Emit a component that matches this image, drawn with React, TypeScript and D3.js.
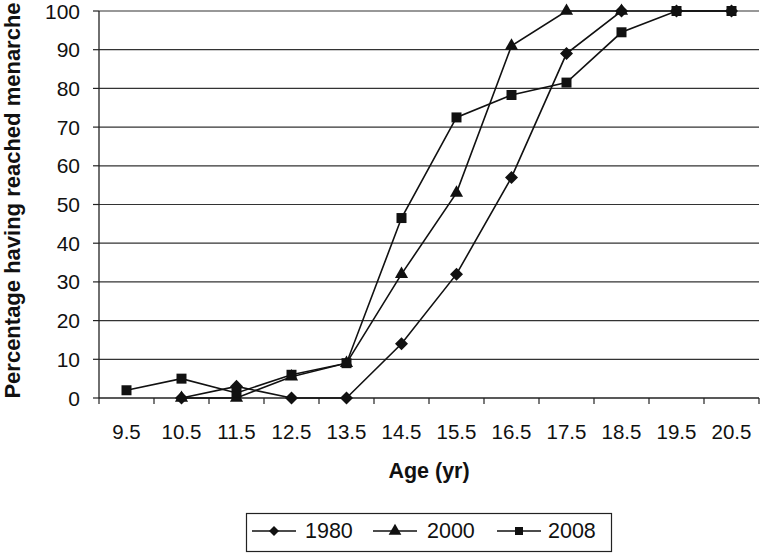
import React from 'react'
import { scaleBand, scaleLinear, line, symbol, symbolTriangle, symbolSquare } from 'd3'

const ages = ['9.5', '10.5', '11.5', '12.5', '13.5', '14.5', '15.5', '16.5', '17.5', '18.5', '19.5', '20.5']
const y1980 = [null, 0, 3, 0, 0, 14, 32, 57, 89, 100, 100, 100]
const y2000 = [null, 0, 0, 5.5, 9, 32, 53, 91, 100, 100, null, null]
const y2008 = [2, 5, 1.3, 6, 9, 46.5, 72.5, 78.3, 81.5, 94.5, 100, 100]
const yTicks = [0, 10, 20, 30, 40, 50, 60, 70, 80, 90, 100]

const margin = { top: 11, right: 1, bottom: 155, left: 99 }
const W = 760, H = 553
const width = W - margin.left - margin.right
const height = H - margin.top - margin.bottom

const font = 'Arial, "Liberation Sans", Helvetica, sans-serif'

export default function App() {
  const x = scaleBand<string>().domain(ages).range([0, width]).padding(0)
  const y = scaleLinear().domain([0, 100]).range([height, 0])
  const cx = (a: string) => (x(a) as number) + x.bandwidth() / 2

  // diamond = square turned 45deg
  const series = [
    { name: '1980', values: y1980, shape: symbolSquare, size: 85, rot: 45, legSize: 50 },
    { name: '2000', values: y2000, shape: symbolTriangle, size: 75, rot: 0, legSize: 70 },
    { name: '2008', values: y2008, shape: symbolSquare, size: 100, rot: 0, legSize: 64 },
  ]

  const lineGen = line<number | null>()
    .defined(d => d !== null)
    .x((d, i) => cx(ages[i]))
    .y(d => y(d as number))

  const legendItems = [
    { x: 252, textX: 305 },
    { x: 373, textX: 427 },
    { x: 497, textX: 548 },
  ]

  return (
    <svg width={W} height={H} style={{ position: 'absolute', left: 0, top: 0, background: '#fff' }} fontFamily={font}>
      <g transform={`translate(${margin.left},${margin.top})`}>
        {yTicks.map(t => (
          <g key={t}>
            {t > 0 && <line x1={0} x2={width} y1={y(t)} y2={y(t)} stroke="#333" strokeWidth={1.2} />}
            <line x1={-6} x2={0} y1={y(t)} y2={y(t)} stroke="#222" strokeWidth={1.2} />
            <text x={-19} y={y(t)} dy="0.36em" textAnchor="end" fontSize={21} fill="#111">{t}</text>
          </g>
        ))}
        <line x1={0} x2={0} y1={0} y2={height} stroke="#222" strokeWidth={1.3} />
        <line x1={0} x2={width} y1={height} y2={height} stroke="#222" strokeWidth={1.3} />
        {ages.map((a, i) => (
          <g key={a}>
            <line x1={(x(a) as number) + x.bandwidth()} x2={(x(a) as number) + x.bandwidth()} y1={height} y2={height + 6} stroke="#222" strokeWidth={1.2} />
            {i === 0 && <line x1={0} x2={0} y1={height} y2={height + 6} stroke="#222" strokeWidth={1.2} />}
            <text x={cx(a)} y={height + 41} textAnchor="middle" fontSize={20.5} fill="#111">{a}</text>
          </g>
        ))}
        {series.map(s => (
          <g key={s.name}>
            <path d={lineGen(s.values) as string} fill="none" stroke="#111" strokeWidth={1.6} />
            {s.values.map((v, i) => v === null ? null : (
              <path key={i} d={symbol(s.shape, s.size)() as string}
                transform={`translate(${cx(ages[i])},${y(v)}) rotate(${s.rot})`} fill="#111" />
            ))}
          </g>
        ))}
      </g>
      <text transform={`translate(20,${margin.top + height / 2 - 4}) rotate(-90)`} textAnchor="middle"
        fontSize={22} fontWeight="bold" fill="#111">Percentage having reached menarche</text>
      <text x={429} y={478} textAnchor="middle" fontSize={21.5} fontWeight="bold" fill="#111">Age (yr)</text>
      <rect x={246.5} y={513.5} width={365} height={38} fill="#fff" stroke="#222" strokeWidth={1.2} />
      {series.map((s, i) => (
        <g key={s.name}>
          <line x1={legendItems[i].x} x2={legendItems[i].x + 44} y1={531} y2={531} stroke="#111" strokeWidth={1.6} />
          <path d={symbol(s.shape, s.legSize)() as string} transform={`translate(${legendItems[i].x + 22},531) rotate(${s.rot})`} fill="#111" />
          <text x={legendItems[i].textX} y={538} fontSize={21.5} fill="#111">{s.name}</text>
        </g>
      ))}
    </svg>
  )
}
